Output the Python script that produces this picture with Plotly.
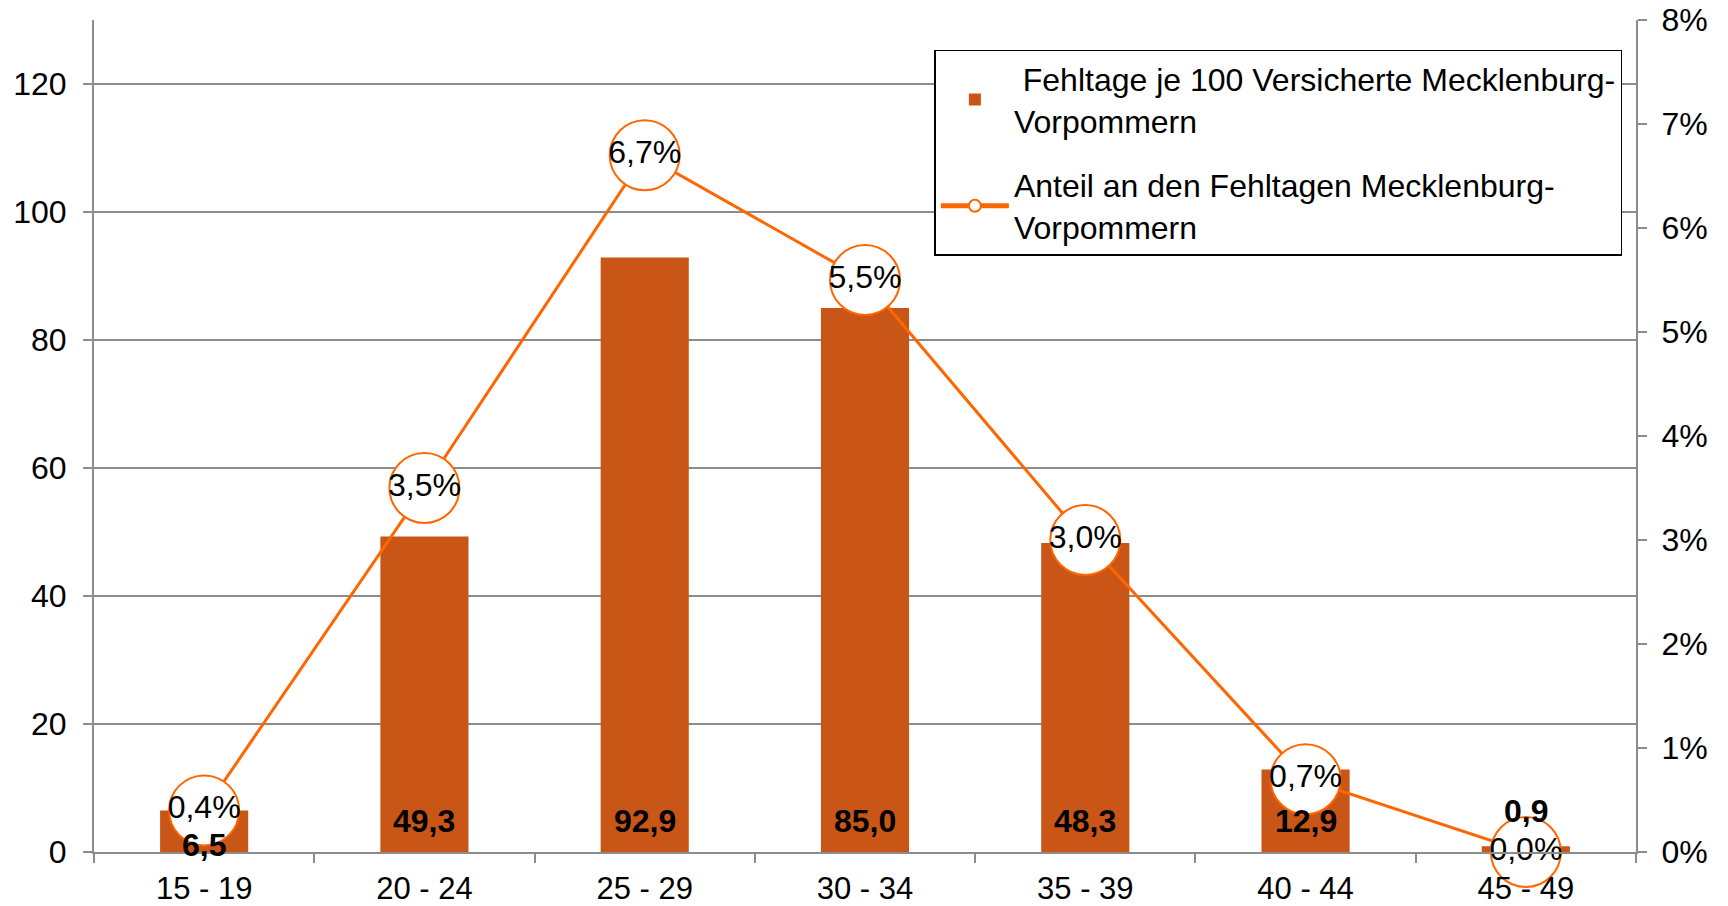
import plotly.graph_objects as go

categories = ["15 - 19", "20 - 24", "25 - 29", "30 - 34", "35 - 39", "40 - 44", "45 - 49"]
fehltage = [6.5, 49.3, 92.9, 85.0, 48.3, 12.9, 0.9]
fehltage_labels = ["6,5", "49,3", "92,9", "85,0", "48,3", "12,9", "0,9"]
anteil = [0.004, 0.035, 0.067, 0.055, 0.030, 0.007, 0.000]
anteil_labels = ["0,4%", "3,5%", "6,7%", "5,5%", "3,0%", "0,7%", "0,0%"]
left_ticks = [0, 20, 40, 60, 80, 100, 120]
right_ticks = [0, 0.01, 0.02, 0.03, 0.04, 0.05, 0.06, 0.07, 0.08]
right_tick_labels = ["0%", "1%", "2%", "3%", "4%", "5%", "6%", "7%", "8%"]

# pixel offsets of the bar labels above the axis (style only)
label_shift = [7, 31, 31, 31, 31, 31, 41]

FONT = "Liberation Sans, Arial, sans-serif"
BAR_COLOR = "#C95516"
LINE_COLOR = "#FF6600"
GRID = "#8C8C8C"
FS = 32

fig = go.Figure()
fig.add_trace(go.Bar(
    x=categories, y=fehltage,
    name=" Fehltage je 100 Versicherte Mecklenburg-<br>Vorpommern",
    marker=dict(color=BAR_COLOR, line=dict(width=0)),
    width=0.4, yaxis="y", legendgroup="a",
))
fig.add_trace(go.Scatter(
    x=categories, y=anteil,
    name="Anteil an den Fehltagen Mecklenburg-<br>Vorpommern",
    mode="lines+markers+text",
    text=anteil_labels, textposition="middle center",
    textfont=dict(family=FONT, size=FS, color="black"),
    line=dict(color=LINE_COLOR, width=3),
    marker=dict(symbol="circle", size=70, color="white",
                line=dict(color=LINE_COLOR, width=2)),
    yaxis="y2", legendgroup="b", cliponaxis=False,
))

for cat, lab, sh in zip(categories, fehltage_labels, label_shift):
    fig.add_annotation(
        x=cat, y=0, xref="x", yref="y", text="<b>" + lab + "</b>",
        showarrow=False, yanchor="middle", yshift=sh,
        font=dict(family=FONT, size=FS, color="black"),
    )

fig.update_layout(
    width=1728, height=906,
    margin=dict(l=94, r=92, t=20, b=54, autoexpand=False),
    paper_bgcolor="white", plot_bgcolor="white",
    font=dict(family=FONT, size=FS, color="black"),
    showlegend=True,
    legend=dict(
        x=0.545, y=0.964, xanchor="left", yanchor="top",
        bordercolor="black", borderwidth=1.5, bgcolor="white",
        font=dict(family=FONT, size=FS, color="black"),
        traceorder="grouped", tracegroupgap=20,
        itemsizing="constant", itemwidth=68,
    ),
    xaxis=dict(
        type="category", range=[-0.5, 6.5], automargin=False,
        showline=True, linecolor=GRID, linewidth=2,
        ticks="outside", tickson="boundaries", ticklen=9, tickcolor=GRID, tickwidth=2,
        showgrid=False, tickfont=dict(size=31), ticklabelstandoff=8,
        ticklabeloverflow="allow",
    ),
    yaxis=dict(
        range=[0, 130], tickvals=left_ticks, automargin=False,
        showline=True, linecolor=GRID, linewidth=2,
        ticks="outside", ticklen=9, tickcolor=GRID, tickwidth=2,
        showgrid=True, gridcolor=GRID, gridwidth=1.5, zeroline=False,
        tickfont=dict(size=FS), ticklabelstandoff=10,
        ticklabeloverflow="allow",
    ),
    yaxis2=dict(
        range=[0, 0.08], overlaying="y", side="right", automargin=False,
        tickvals=right_ticks, ticktext=right_tick_labels,
        showline=True, linecolor=GRID, linewidth=2,
        ticks="outside", ticklen=9, tickcolor=GRID, tickwidth=2,
        showgrid=False, zeroline=False, tickfont=dict(size=FS),
        ticklabelstandoff=8, ticklabeloverflow="allow",
    ),
)

fig.write_html(
    "out.html",
    config={"displayModeBar": False},
    post_script="document.body.style.margin='0';document.body.style.overflow='hidden';",
)
